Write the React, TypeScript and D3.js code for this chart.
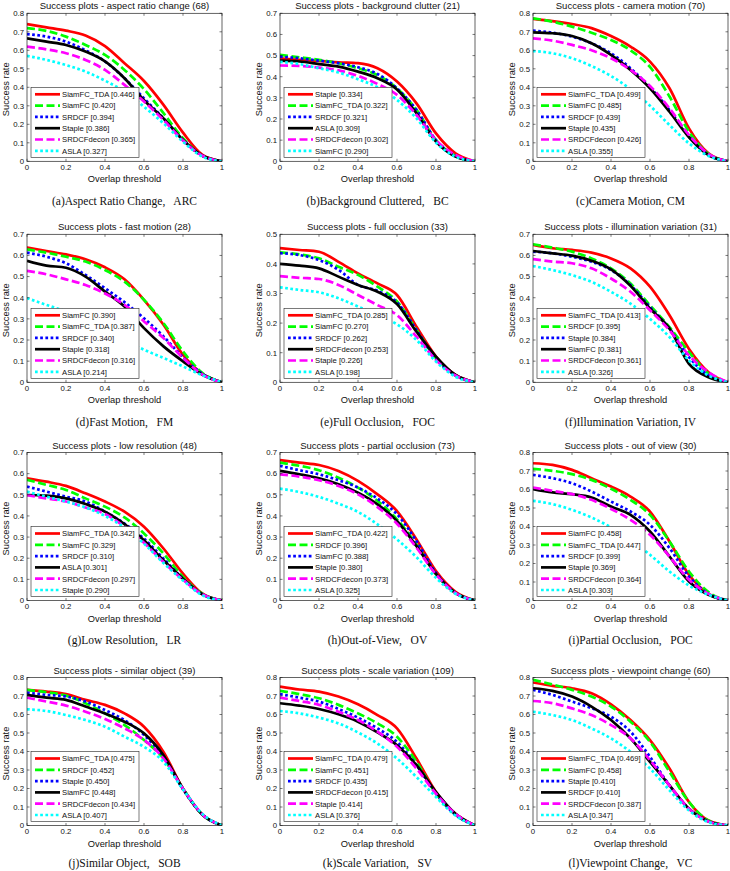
import React from "react";
import * as d3 from "d3";

// Overlap thresholds at which the success rate is sampled
const thresholds = [0, 0.1, 0.2, 0.3, 0.4, 0.5, 0.6, 0.7, 0.8, 0.9, 1.0];

// Line style by rank inside each legend
const rankColors = ["#ff0000", "#00ff00", "#0000ff", "#000000", "#ff00ff", "#00ffff"];
const rankDash = [null, "8,3.5", "2.7,2.5", null, "8,3.5", "2.7,2.5"];

// (a) aspect ratio change
const arcTitle = "Success plots - aspect ratio change (68)";
const arcCaption = "(a)Aspect Ratio Change,   ARC";
const arcNames = ["SiamFC_TDA", "SiamFC", "SRDCF", "Staple", "SRDCFdecon", "ASLA"];
const arcScores = ["0.446", "0.420", "0.394", "0.386", "0.365", "0.327"];
const arcRates = [
  [0.742, 0.724, 0.706, 0.68, 0.623, 0.53, 0.434, 0.305, 0.155, 0.035, 0],
  [0.72, 0.705, 0.674, 0.629, 0.575, 0.494, 0.39, 0.26, 0.125, 0.03, 0],
  [0.688, 0.674, 0.647, 0.6, 0.54, 0.449, 0.34, 0.232, 0.115, 0.03, 0],
  [0.665, 0.647, 0.629, 0.593, 0.54, 0.449, 0.33, 0.232, 0.115, 0.03, 0],
  [0.62, 0.605, 0.584, 0.548, 0.494, 0.413, 0.323, 0.223, 0.112, 0.03, 0],
  [0.57, 0.548, 0.52, 0.485, 0.436, 0.377, 0.295, 0.205, 0.106, 0.025, 0],
];

// (b) background clutter
const bcTitle = "Success plots - background clutter (21)";
const bcCaption = "(b)Background Cluttered,   BC";
const bcNames = ["Staple", "SiamFC_TDA", "SRDCF", "ASLA", "SRDCFdecon", "SiamFC"];
const bcScores = ["0.334", "0.322", "0.321", "0.309", "0.302", "0.290"];
const bcRates = [
  [0.487, 0.48, 0.475, 0.468, 0.464, 0.44, 0.377, 0.274, 0.132, 0.038, 0],
  [0.503, 0.492, 0.48, 0.464, 0.44, 0.408, 0.345, 0.243, 0.1, 0.025, 0],
  [0.495, 0.487, 0.476, 0.464, 0.445, 0.413, 0.345, 0.243, 0.1, 0.025, 0],
  [0.476, 0.472, 0.46, 0.448, 0.424, 0.393, 0.34, 0.227, 0.093, 0.022, 0],
  [0.453, 0.451, 0.443, 0.43, 0.404, 0.366, 0.314, 0.219, 0.1, 0.03, 0],
  [0.47, 0.46, 0.44, 0.42, 0.388, 0.35, 0.29, 0.203, 0.088, 0.022, 0],
];

// (c) camera motion
const cmTitle = "Success plots - camera motion (70)";
const cmCaption = "(c)Camera Motion, CM";
const cmNames = ["SiamFC_TDA", "SiamFC", "SRDCF", "Staple", "SRDCFdecon", "ASLA"];
const cmScores = ["0.499", "0.485", "0.439", "0.435", "0.426", "0.355"];
const cmRates = [
  [0.77, 0.758, 0.742, 0.72, 0.677, 0.62, 0.539, 0.395, 0.178, 0.043, 0],
  [0.773, 0.755, 0.728, 0.695, 0.656, 0.6, 0.51, 0.35, 0.16, 0.04, 0],
  [0.706, 0.695, 0.674, 0.638, 0.584, 0.503, 0.4, 0.277, 0.133, 0.034, 0],
  [0.697, 0.692, 0.677, 0.638, 0.575, 0.494, 0.395, 0.268, 0.13, 0.034, 0],
  [0.665, 0.652, 0.629, 0.6, 0.557, 0.494, 0.407, 0.286, 0.142, 0.04, 0],
  [0.596, 0.584, 0.557, 0.515, 0.461, 0.39, 0.3, 0.196, 0.097, 0.029, 0],
];

// (d) fast motion
const fmTitle = "Success plots - fast motion (28)";
const fmCaption = "(d)Fast Motion,   FM";
const fmNames = ["SiamFC", "SiamFC_TDA", "SRDCF", "Staple", "SRDCFdecon", "ASLA"];
const fmScores = ["0.390", "0.387", "0.340", "0.318", "0.316", "0.214"];
const fmRates = [
  [0.638, 0.621, 0.605, 0.582, 0.544, 0.487, 0.39, 0.272, 0.13, 0.04, 0],
  [0.629, 0.613, 0.594, 0.571, 0.531, 0.476, 0.39, 0.28, 0.146, 0.044, 0],
  [0.613, 0.594, 0.563, 0.508, 0.445, 0.379, 0.303, 0.217, 0.118, 0.04, 0],
  [0.575, 0.552, 0.542, 0.5, 0.429, 0.358, 0.256, 0.17, 0.099, 0.036, 0],
  [0.527, 0.511, 0.487, 0.46, 0.42, 0.366, 0.288, 0.209, 0.115, 0.036, 0],
  [0.398, 0.366, 0.335, 0.296, 0.248, 0.2, 0.154, 0.115, 0.075, 0.033, 0],
];

// (e) full occlusion
const focTitle = "Success plots - full occlusion (33)";
const focCaption = "(e)Full Occlusion,   FOC";
const focNames = ["SiamFC_TDA", "SiamFC", "SRDCF", "SRDCFdecon", "Staple", "ASLA"];
const focScores = ["0.285", "0.270", "0.262", "0.253", "0.226", "0.198"];
const focRates = [
  [0.453, 0.447, 0.441, 0.407, 0.368, 0.334, 0.295, 0.188, 0.087, 0.025, 0],
  [0.439, 0.432, 0.419, 0.39, 0.363, 0.323, 0.273, 0.177, 0.081, 0.023, 0],
  [0.436, 0.43, 0.413, 0.38, 0.329, 0.309, 0.27, 0.177, 0.079, 0.023, 0],
  [0.4, 0.394, 0.385, 0.357, 0.329, 0.306, 0.264, 0.171, 0.087, 0.025, 0],
  [0.359, 0.353, 0.349, 0.329, 0.295, 0.261, 0.227, 0.154, 0.075, 0.023, 0],
  [0.321, 0.312, 0.304, 0.284, 0.256, 0.227, 0.196, 0.143, 0.07, 0.019, 0],
];

// (f) illumination variation
const ivTitle = "Success plots - illumination variation (31)";
const ivCaption = "(f)Illumination Variation, IV";
const ivNames = ["SiamFC_TDA", "SRDCF", "Staple", "SiamFC", "SRDCFdecon", "ASLA"];
const ivScores = ["0.413", "0.395", "0.384", "0.381", "0.361", "0.326"];
const ivRates = [
  [0.65, 0.634, 0.626, 0.613, 0.586, 0.539, 0.452, 0.317, 0.158, 0.048, 0],
  [0.653, 0.637, 0.618, 0.586, 0.539, 0.467, 0.364, 0.261, 0.143, 0.04, 0],
  [0.618, 0.61, 0.594, 0.57, 0.531, 0.46, 0.356, 0.254, 0.119, 0.032, 0],
  [0.621, 0.61, 0.599, 0.575, 0.534, 0.456, 0.349, 0.254, 0.087, 0.024, 0],
  [0.583, 0.571, 0.563, 0.539, 0.491, 0.428, 0.341, 0.246, 0.127, 0.048, 0],
  [0.55, 0.531, 0.507, 0.475, 0.428, 0.372, 0.3, 0.214, 0.103, 0.032, 0],
];

// (g) low resolution
const lrTitle = "Success plots - low resolution (48)";
const lrCaption = "(g)Low Resolution,   LR";
const lrNames = ["SiamFC_TDA", "SiamFC", "SRDCF", "ASLA", "SRDCFdecon", "Staple"];
const lrScores = ["0.342", "0.329", "0.310", "0.301", "0.297", "0.290"];
const lrRates = [
  [0.578, 0.562, 0.542, 0.507, 0.468, 0.42, 0.349, 0.246, 0.127, 0.032, 0],
  [0.571, 0.547, 0.523, 0.483, 0.444, 0.393, 0.317, 0.222, 0.111, 0.032, 0],
  [0.539, 0.515, 0.491, 0.468, 0.42, 0.364, 0.293, 0.198, 0.103, 0.029, 0],
  [0.499, 0.496, 0.483, 0.456, 0.42, 0.361, 0.285, 0.19, 0.103, 0.029, 0],
  [0.498, 0.483, 0.468, 0.44, 0.409, 0.349, 0.273, 0.182, 0.098, 0.029, 0],
  [0.515, 0.491, 0.468, 0.44, 0.4, 0.345, 0.269, 0.177, 0.095, 0.024, 0],
];

// (h) partial occlusion
const ovTitle = "Success plots - partial occlusion (73)";
const ovCaption = "(h)Out-of-View,   OV";
const ovNames = ["SiamFC_TDA", "SRDCF", "SiamFC", "Staple", "SRDCFdecon", "ASLA"];
const ovScores = ["0.422", "0.396", "0.388", "0.380", "0.373", "0.325"];
const ovRates = [
  [0.664, 0.652, 0.641, 0.613, 0.566, 0.502, 0.423, 0.289, 0.139, 0.041, 0],
  [0.652, 0.637, 0.616, 0.581, 0.534, 0.471, 0.384, 0.265, 0.123, 0.036, 0],
  [0.637, 0.616, 0.597, 0.569, 0.534, 0.482, 0.408, 0.281, 0.131, 0.036, 0],
  [0.613, 0.597, 0.578, 0.55, 0.51, 0.455, 0.376, 0.257, 0.126, 0.036, 0],
  [0.597, 0.586, 0.569, 0.542, 0.502, 0.442, 0.363, 0.25, 0.123, 0.036, 0],
  [0.529, 0.513, 0.49, 0.458, 0.419, 0.36, 0.289, 0.205, 0.107, 0.032, 0],
];

// (i) out of view
const pocTitle = "Success plots - out of view (30)";
const pocCaption = "(i)Partial Occlusion,   POC";
const pocNames = ["SiamFC", "SiamFC_TDA", "SRDCF", "Staple", "SRDCFdecon", "ASLA"];
const pocScores = ["0.458", "0.447", "0.399", "0.369", "0.364", "0.303"];
const pocRates = [
  [0.742, 0.733, 0.706, 0.661, 0.616, 0.562, 0.481, 0.319, 0.139, 0.036, 0],
  [0.712, 0.701, 0.683, 0.652, 0.604, 0.544, 0.463, 0.319, 0.157, 0.045, 0],
  [0.679, 0.661, 0.634, 0.589, 0.535, 0.481, 0.409, 0.283, 0.13, 0.036, 0],
  [0.602, 0.584, 0.575, 0.557, 0.508, 0.463, 0.373, 0.238, 0.103, 0.031, 0],
  [0.611, 0.593, 0.575, 0.544, 0.495, 0.436, 0.355, 0.238, 0.112, 0.036, 0],
  [0.539, 0.521, 0.49, 0.449, 0.395, 0.328, 0.247, 0.157, 0.081, 0.031, 0],
];

// (j) similar object
const sobTitle = "Success plots - similar object (39)";
const sobCaption = "(j)Similar Object,   SOB";
const sobNames = ["SiamFC_TDA", "SRDCF", "Staple", "SiamFC", "SRDCFdecon", "ASLA"];
const sobScores = ["0.475", "0.452", "0.450", "0.448", "0.434", "0.407"];
const sobRates = [
  [0.733, 0.724, 0.71, 0.679, 0.652, 0.606, 0.534, 0.398, 0.199, 0.058, 0],
  [0.733, 0.72, 0.702, 0.661, 0.606, 0.543, 0.462, 0.362, 0.199, 0.058, 0],
  [0.718, 0.706, 0.697, 0.67, 0.624, 0.57, 0.489, 0.371, 0.195, 0.058, 0],
  [0.706, 0.691, 0.679, 0.643, 0.606, 0.561, 0.498, 0.38, 0.199, 0.058, 0],
  [0.691, 0.67, 0.648, 0.615, 0.576, 0.525, 0.462, 0.362, 0.199, 0.06, 0],
  [0.628, 0.619, 0.597, 0.57, 0.534, 0.48, 0.425, 0.344, 0.195, 0.062, 0],
];

// (k) scale variation
const svTitle = "Success plots - scale variation (109)";
const svCaption = "(k)Scale Variation,   SV";
const svNames = ["SiamFC_TDA", "SiamFC", "SRDCF", "SRDCFdecon", "Staple", "ASLA"];
const svScores = ["0.479", "0.451", "0.435", "0.415", "0.414", "0.376"];
const svRates = [
  [0.751, 0.735, 0.724, 0.697, 0.655, 0.597, 0.525, 0.362, 0.181, 0.063, 0],
  [0.728, 0.71, 0.688, 0.652, 0.606, 0.552, 0.48, 0.344, 0.172, 0.058, 0],
  [0.71, 0.691, 0.67, 0.63, 0.583, 0.525, 0.452, 0.326, 0.172, 0.058, 0],
  [0.661, 0.648, 0.63, 0.601, 0.561, 0.503, 0.434, 0.326, 0.181, 0.063, 0],
  [0.691, 0.673, 0.652, 0.615, 0.57, 0.507, 0.425, 0.308, 0.172, 0.063, 0],
  [0.619, 0.606, 0.583, 0.552, 0.503, 0.443, 0.362, 0.262, 0.154, 0.054, 0],
];

// (l) viewpoint change
const vcTitle = "Success plots - viewpoint change (60)";
const vcCaption = "(l)Viewpoint Change,   VC";
const vcNames = ["SiamFC_TDA", "SiamFC", "Staple", "SRDCF", "SRDCFdecon", "ASLA"];
const vcScores = ["0.469", "0.458", "0.410", "0.410", "0.387", "0.347"];
const vcRates = [
  [0.773, 0.755, 0.742, 0.715, 0.655, 0.57, 0.462, 0.308, 0.127, 0.027, 0],
  [0.787, 0.762, 0.733, 0.697, 0.643, 0.561, 0.452, 0.29, 0.127, 0.027, 0],
  [0.733, 0.706, 0.67, 0.634, 0.588, 0.507, 0.371, 0.217, 0.09, 0.022, 0],
  [0.742, 0.728, 0.697, 0.643, 0.57, 0.471, 0.344, 0.217, 0.09, 0.022, 0],
  [0.673, 0.661, 0.633, 0.597, 0.543, 0.471, 0.353, 0.217, 0.09, 0.022, 0],
  [0.615, 0.597, 0.57, 0.525, 0.471, 0.398, 0.308, 0.19, 0.081, 0.018, 0],
];

// Upper limit of each y axis
const yMaxes = [0.8, 0.7, 0.8, 0.7, 0.5, 0.7, 0.7, 0.7, 0.8, 0.8, 0.8, 0.8];

const panels = [
  { title: arcTitle, caption: arcCaption, names: arcNames, scores: arcScores, rates: arcRates },
  { title: bcTitle, caption: bcCaption, names: bcNames, scores: bcScores, rates: bcRates },
  { title: cmTitle, caption: cmCaption, names: cmNames, scores: cmScores, rates: cmRates },
  { title: fmTitle, caption: fmCaption, names: fmNames, scores: fmScores, rates: fmRates },
  { title: focTitle, caption: focCaption, names: focNames, scores: focScores, rates: focRates },
  { title: ivTitle, caption: ivCaption, names: ivNames, scores: ivScores, rates: ivRates },
  { title: lrTitle, caption: lrCaption, names: lrNames, scores: lrScores, rates: lrRates },
  { title: ovTitle, caption: ovCaption, names: ovNames, scores: ovScores, rates: ovRates },
  { title: pocTitle, caption: pocCaption, names: pocNames, scores: pocScores, rates: pocRates },
  { title: sobTitle, caption: sobCaption, names: sobNames, scores: sobScores, rates: sobRates },
  { title: svTitle, caption: svCaption, names: svNames, scores: svScores, rates: svRates },
  { title: vcTitle, caption: vcCaption, names: vcNames, scores: vcScores, rates: vcRates },
];

const WIDTH = 730;
const HEIGHT = 871;
const colLeft = [27, 280, 533];
const rowTop = [13.3, 234.3, 452.5, 677.5];
const captionGap = [44, 44, 43, 41];
const plotW = 195;
const plotH = 148;
const sans = "'Liberation Sans', Arial, sans-serif";
const serif = "'Liberation Serif', 'Times New Roman', serif";

function Panel({ idx }: { idx: number }) {
  const p = panels[idx];
  const row = Math.floor(idx / 3);
  const left = colLeft[idx % 3];
  const top = rowTop[row];
  const bottom = top + plotH;
  const right = left + plotW;
  const yMax = yMaxes[idx];

  const x = d3.scaleLinear().domain([0, 1]).range([left, right]);
  const y = d3.scaleLinear().domain([0, yMax]).range([bottom, top]);
  const line = d3
    .line<number>()
    .x((_, i) => x(thresholds[i]))
    .y((d) => y(d))
    .curve(d3.curveMonotoneX);

  const xTicks = [0, 0.2, 0.4, 0.6, 0.8, 1];
  const yTicks = d3.range(0, Math.round(yMax * 10) + 1).map((k) => k / 10);
  const tickLen = 2.5;
  const clipId = `clip-${idx}`;

  const legW = 108;
  const legH = 70;
  const legX = left + 4;
  const legY = bottom - 4 - legH;

  return (
    <g>
      <defs>
        <clipPath id={clipId}>
          <rect x={left} y={top} width={plotW} height={plotH} />
        </clipPath>
      </defs>
      <rect x={left} y={top} width={plotW} height={plotH} fill="#fff" />
      <g clipPath={`url(#${clipId})`}>
        {p.rates.map((r, k) => (
          <path
            key={k}
            d={line(r) || ""}
            fill="none"
            stroke={rankColors[k]}
            strokeWidth={2.7}
            strokeDasharray={rankDash[k] || undefined}
            strokeLinejoin="round"
          />
        ))}
      </g>
      {/* axes box and inward ticks */}
      <rect x={left} y={top} width={plotW} height={plotH} fill="none" stroke="#222" strokeWidth={0.7} />
      {xTicks.map((t) => (
        <g key={`xt${t}`}>
          <line x1={x(t)} x2={x(t)} y1={bottom} y2={bottom - tickLen} stroke="#222" strokeWidth={0.6} />
          <line x1={x(t)} x2={x(t)} y1={top} y2={top + tickLen} stroke="#222" strokeWidth={0.6} />
          <text x={x(t)} y={bottom + 8.5} textAnchor="middle" fontFamily={sans} fontSize={7.8} fill="#111">
            {d3.format("~g")(t)}
          </text>
        </g>
      ))}
      {yTicks.map((t) => (
        <g key={`yt${t}`}>
          <line x1={left} x2={left + tickLen} y1={y(t)} y2={y(t)} stroke="#222" strokeWidth={0.6} />
          <line x1={right} x2={right - tickLen} y1={y(t)} y2={y(t)} stroke="#222" strokeWidth={0.6} />
          <text x={left - 3} y={y(t) + 2.8} textAnchor="end" fontFamily={sans} fontSize={7.8} fill="#111">
            {d3.format("~g")(t)}
          </text>
        </g>
      ))}
      <text x={(left + right) / 2} y={top - 4} textAnchor="middle" fontFamily={sans} fontSize={9.5} fill="#111">
        {p.title}
      </text>
      <text x={(left + right) / 2} y={bottom + 21} textAnchor="middle" fontFamily={sans} fontSize={9.3} fill="#111">
        Overlap threshold
      </text>
      <text
        transform={`translate(${left - 18.5},${(top + bottom) / 2 + 2}) rotate(-90)`}
        textAnchor="middle"
        fontFamily={sans}
        fontSize={9.3}
        fill="#111"
      >
        Success rate
      </text>
      {/* legend */}
      <rect x={legX} y={legY} width={legW} height={legH} fill="#fff" stroke="#222" strokeWidth={0.6} />
      {p.names.map((n, k) => {
        const cy = legY + 7 + k * 11.3;
        return (
          <g key={`lg${k}`}>
            <line
              x1={legX + 4}
              x2={legX + 29}
              y1={cy}
              y2={cy}
              stroke={rankColors[k]}
              strokeWidth={2.7}
              strokeDasharray={rankDash[k] || undefined}
            />
            <text x={legX + 31} y={cy + 2.8} fontFamily={sans} fontSize={7.7} fill="#111">
              {`${n} [${p.scores[k]}]`}
            </text>
          </g>
        );
      })}
      <text
        x={(left + right) / 2}
        y={bottom + captionGap[row]}
        textAnchor="middle"
        fontFamily={serif}
        fontSize={11.5}
        fill="#111"
        style={{ whiteSpace: "pre" }}
      >
        {p.caption}
      </text>
    </g>
  );
}

export default function App() {
  return (
    <svg
      width={WIDTH}
      height={HEIGHT}
      viewBox={`0 0 ${WIDTH} ${HEIGHT}`}
      style={{ position: "absolute", left: 0, top: 0, background: "#fff" }}
    >
      <rect width={WIDTH} height={HEIGHT} fill="#fff" />
      {panels.map((_, i) => (
        <Panel key={i} idx={i} />
      ))}
    </svg>
  );
}
